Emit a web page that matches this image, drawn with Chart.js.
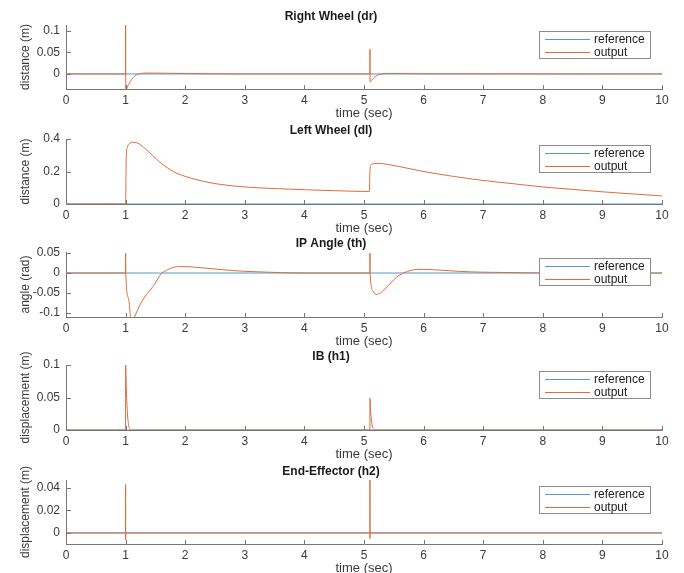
<!DOCTYPE html>
<html>
<head>
<meta charset="utf-8">
<script src="https://cdn.jsdelivr.net/npm/chart.js@4/dist/chart.umd.min.js"></script>
<style>
  html, body { margin: 0; padding: 0; background: #ffffff; }
  body { width: 684px; height: 573px; position: relative; overflow: hidden; }
  canvas { position: absolute; left: 0; }
</style>
</head>
<body>
<script>
// ---- data -------------------------------------------------------------
const timeTicks = [0, 1, 2, 3, 4, 5, 6, 7, 8, 9, 10];

// reference signal: zero for every channel
const referenceTime  = [0, 10];
const referenceValue = [0, 0];

// Right wheel distance (m)
const drTime   = [0, 0.999, 1.0, 1.002, 1.02, 1.05, 1.1, 1.15, 1.2, 1.3, 1.5, 2.0, 3.0,
                  5.099, 5.1, 5.102, 5.12, 5.15, 5.2, 5.3, 5.5, 6.0, 10];
const drOutput = [0, 0, 0.13, -0.05, -0.034, -0.025, -0.013, -0.005, -0.001, 0.002, 0.002, 0.001, 0,
                  0, 0.058, -0.019, -0.016, -0.011, -0.005, 0, 0.001, 0.0005, 0];
const drTicks  = [0, 0.05, 0.1];

// Left wheel distance (m)
const dlTime   = [0, 1.0, 1.01, 1.03, 1.06, 1.12, 1.2, 1.3, 1.45, 1.6, 1.8, 2.0, 2.3, 2.6, 3.0, 3.5, 4.0, 4.5, 5.09,
                  5.1, 5.12, 5.18, 5.25, 5.4, 5.6, 6.0, 6.5, 7.0, 7.5, 8.0, 8.5, 9.0, 9.5, 10];
const dlOutput = [0, 0, 0.28, 0.35, 0.37, 0.38, 0.375, 0.35, 0.3, 0.25, 0.2, 0.17, 0.14, 0.12, 0.105, 0.095, 0.088, 0.082, 0.077,
                  0.2, 0.24, 0.25, 0.25, 0.243, 0.23, 0.2, 0.17, 0.145, 0.125, 0.105, 0.09, 0.075, 0.062, 0.05];
const dlTicks  = [0, 0.2, 0.4];

// Inverted pendulum angle (rad)
const thTime   = [0, 0.999, 1.0, 1.003, 1.05, 1.1, 1.15, 1.24, 1.32, 1.41, 1.5, 1.58, 1.7, 1.8, 1.9, 2.0, 2.2, 2.5, 2.8, 3.2, 3.6, 4.0,
                  5.099, 5.1, 5.103, 5.15, 5.2, 5.25, 5.35, 5.45, 5.55, 5.66, 5.8, 5.9, 6.0, 6.3, 6.6, 7.0, 7.5, 8.0, 10];
const thOutput = [0, 0, 0.05, 0, -0.065, -0.125, -0.11, -0.08, -0.06, -0.043, -0.025, -0.005, 0.008, 0.014, 0.016, 0.016, 0.014, 0.01, 0.006, 0.003, 0.001, 0,
                  0, 0.05, 0, -0.045, -0.054, -0.052, -0.04, -0.025, -0.01, 0, 0.007, 0.009, 0.009, 0.007, 0.004, 0.002, 0.001, 0, 0];
const thTicks  = [-0.1, -0.05, 0, 0.05];

// IB displacement h1 (m)
const h1Time   = [0, 0.999, 1.0, 1.01, 1.02, 1.035, 1.05, 1.07, 1.1, 5.099, 5.1, 5.11, 5.125, 5.14, 5.16, 5.2, 10];
const h1Output = [0, 0, 0.1, 0.07, 0.045, 0.02, 0.008, 0.002, 0, 0, 0.049, 0.03, 0.015, 0.006, 0.002, 0, 0];
const h1Ticks  = [0, 0.05, 0.1];

// End-effector displacement h2 (m)
const h2Time   = [0, 0.999, 1.0, 1.001, 1.003, 5.099, 5.1, 5.101, 5.103, 10];
const h2Output = [0, 0, 0.043, -0.006, 0, 0, 0.05, -0.005, 0, 0];
const h2Ticks  = [0, 0.02, 0.04];

const seriesNames = ['reference', 'output'];

// ---- panel definitions -----------------------------------------------
const panelData = [
  { title: 'Right Wheel (dr)',  ylabel: 'distance (m)',     time: drTime, output: drOutput, ticks: drTicks, yMin: -0.035, yMax: 0.114 },
  { title: 'Left Wheel (dl)',   ylabel: 'distance (m)',     time: dlTime, output: dlOutput, ticks: dlTicks, yMin: 0,      yMax: 0.4 },
  { title: 'IP Angle (th)',     ylabel: 'angle (rad)',      time: thTime, output: thOutput, ticks: thTicks, yMin: -0.11,  yMax: 0.0525 },
  { title: 'IB (h1)',           ylabel: 'displacement (m)', time: h1Time, output: h1Output, ticks: h1Ticks, yMin: 0,      yMax: 0.1 },
  { title: 'End-Effector (h2)', ylabel: 'displacement (m)', time: h2Time, output: h2Output, ticks: h2Ticks, yMin: -0.0098, yMax: 0.047 }
];

// plot-area placement (page pixels)
const panelBoxes = [
  { top: 25,  bottom: 89 },
  { top: 139, bottom: 204 },
  { top: 252, bottom: 317 },
  { top: 365, bottom: 430 },
  { top: 480, bottom: 544 }
];

const COLORS = { reference: '#4f9bd0', output: '#de6c3c', axis: '#767676', text: '#3a3a3a' };
const PLOT_LEFT = 66, PLOT_RIGHT = 662, WIDTH = 684;
const TITLE_SPACE = 22, XAXIS_SPACE = 32;

Chart.defaults.font.family = '"Liberation Sans", Arial, Helvetica, sans-serif';
Chart.defaults.color = COLORS.text;

const toPoints = (xs, ys) => xs.map((x, i) => ({ x: x, y: ys[i] }));

// inward tick marks (left and bottom axes only)
const inwardTicks = {
  id: 'inwardTicks',
  afterDatasetsDraw(chart) {
    const { ctx, chartArea, scales } = chart;
    ctx.save();
    ctx.strokeStyle = COLORS.axis;
    ctx.lineWidth = 1;
    ctx.beginPath();
    scales.x.ticks.forEach(t => {
      const px = Math.round(scales.x.getPixelForValue(t.value)) + 0.5;
      ctx.moveTo(px, chartArea.bottom);
      ctx.lineTo(px, chartArea.bottom - 4);
    });
    scales.y.ticks.forEach(t => {
      const py = Math.round(scales.y.getPixelForValue(t.value)) + 0.5;
      ctx.moveTo(chartArea.left, py);
      ctx.lineTo(chartArea.left + 5, py);
    });
    ctx.stroke();
    ctx.restore();
  }
};

// boxed legend in the upper right of the plot area
const boxedLegend = {
  id: 'boxedLegend',
  afterDatasetsDraw(chart) {
    const { ctx, chartArea } = chart;
    const w = 111, h = 27;
    const x = chartArea.right - 12 - w, y = chartArea.top + 6;
    ctx.save();
    ctx.fillStyle = '#ffffff';
    ctx.fillRect(x, y, w, h);
    ctx.strokeStyle = '#8c8c8c';
    ctx.lineWidth = 1;
    ctx.strokeRect(Math.round(x) + 0.5, Math.round(y) + 0.5, w, h);
    ctx.font = '12px "Liberation Sans", Arial, sans-serif';
    ctx.textBaseline = 'middle';
    ctx.textAlign = 'left';
    const rows = [
      { name: seriesNames[0], color: COLORS.reference },
      { name: seriesNames[1], color: COLORS.output }
    ];
    rows.forEach((r, i) => {
      const ry = Math.round(y + 8 + i * 13) + 0.5;
      ctx.beginPath();
      ctx.strokeStyle = r.color;
      ctx.lineWidth = 1;
      ctx.moveTo(x + 6, ry);
      ctx.lineTo(x + 51, ry);
      ctx.stroke();
      ctx.fillStyle = '#222222';
      ctx.fillText(r.name, x + 55, ry);
    });
    ctx.restore();
  }
};

panelData.forEach((p, idx) => {
  const box = panelBoxes[idx];
  const canvas = document.createElement('canvas');
  const height = TITLE_SPACE + (box.bottom - box.top) + XAXIS_SPACE;
  canvas.width = WIDTH;
  canvas.height = height;
  canvas.style.top = (box.top - TITLE_SPACE) + 'px';
  canvas.style.width = WIDTH + 'px';
  canvas.style.height = height + 'px';
  document.body.appendChild(canvas);

  new Chart(canvas, {
    type: 'line',
    data: {
      datasets: [
        {
          label: seriesNames[0],
          data: toPoints(referenceTime, referenceValue),
          borderColor: COLORS.reference,
          borderWidth: 1,
          pointRadius: 0,
          order: 1
        },
        {
          label: seriesNames[1],
          data: toPoints(p.time, p.output),
          borderColor: COLORS.output,
          borderWidth: 1,
          pointRadius: 0,
          cubicInterpolationMode: 'monotone',
          order: 0
        }
      ]
    },
    options: {
      responsive: false,
      animation: false,
      devicePixelRatio: 1,
      layout: { padding: { top: 0, left: 0, right: WIDTH - PLOT_RIGHT, bottom: 0 } },
      plugins: {
        legend: { display: false },
        tooltip: { enabled: false },
        title: {
          display: true,
          text: p.title,
          color: '#1a1a1a',
          font: { size: 12, weight: 'bold', lineHeight: 1.2 },
          padding: { top: 6, bottom: 1.6 }
        }
      },
      scales: {
        x: {
          type: 'linear',
          min: 0,
          max: 10,
          afterBuildTicks: s => { s.ticks = timeTicks.map(v => ({ value: v })); },
          afterFit: s => { s.height = XAXIS_SPACE; },
          grid: { display: false, drawTicks: false },
          border: { display: true, color: COLORS.axis, width: 1 },
          ticks: { padding: 4, color: COLORS.text, font: { size: 12 }, maxRotation: 0, callback: v => String(v) },
          title: { display: true, text: 'time (sec)', color: COLORS.text, font: { size: 13 }, padding: { top: 0, bottom: 0 } }
        },
        y: {
          type: 'linear',
          min: p.yMin,
          max: p.yMax,
          afterBuildTicks: s => { s.ticks = p.ticks.map(v => ({ value: v })); },
          afterFit: s => { s.width = PLOT_LEFT; },
          grid: { display: false, drawTicks: false },
          border: { display: true, color: COLORS.axis, width: 1 },
          ticks: { padding: 6, color: COLORS.text, font: { size: 12 }, callback: v => String(v) },
          title: { display: true, text: p.ylabel, color: COLORS.text, font: { size: 12 }, padding: { top: 18, bottom: 0 } }
        }
      }
    },
    plugins: [inwardTicks, boxedLegend]
  });
});
</script>
</body>
</html>
